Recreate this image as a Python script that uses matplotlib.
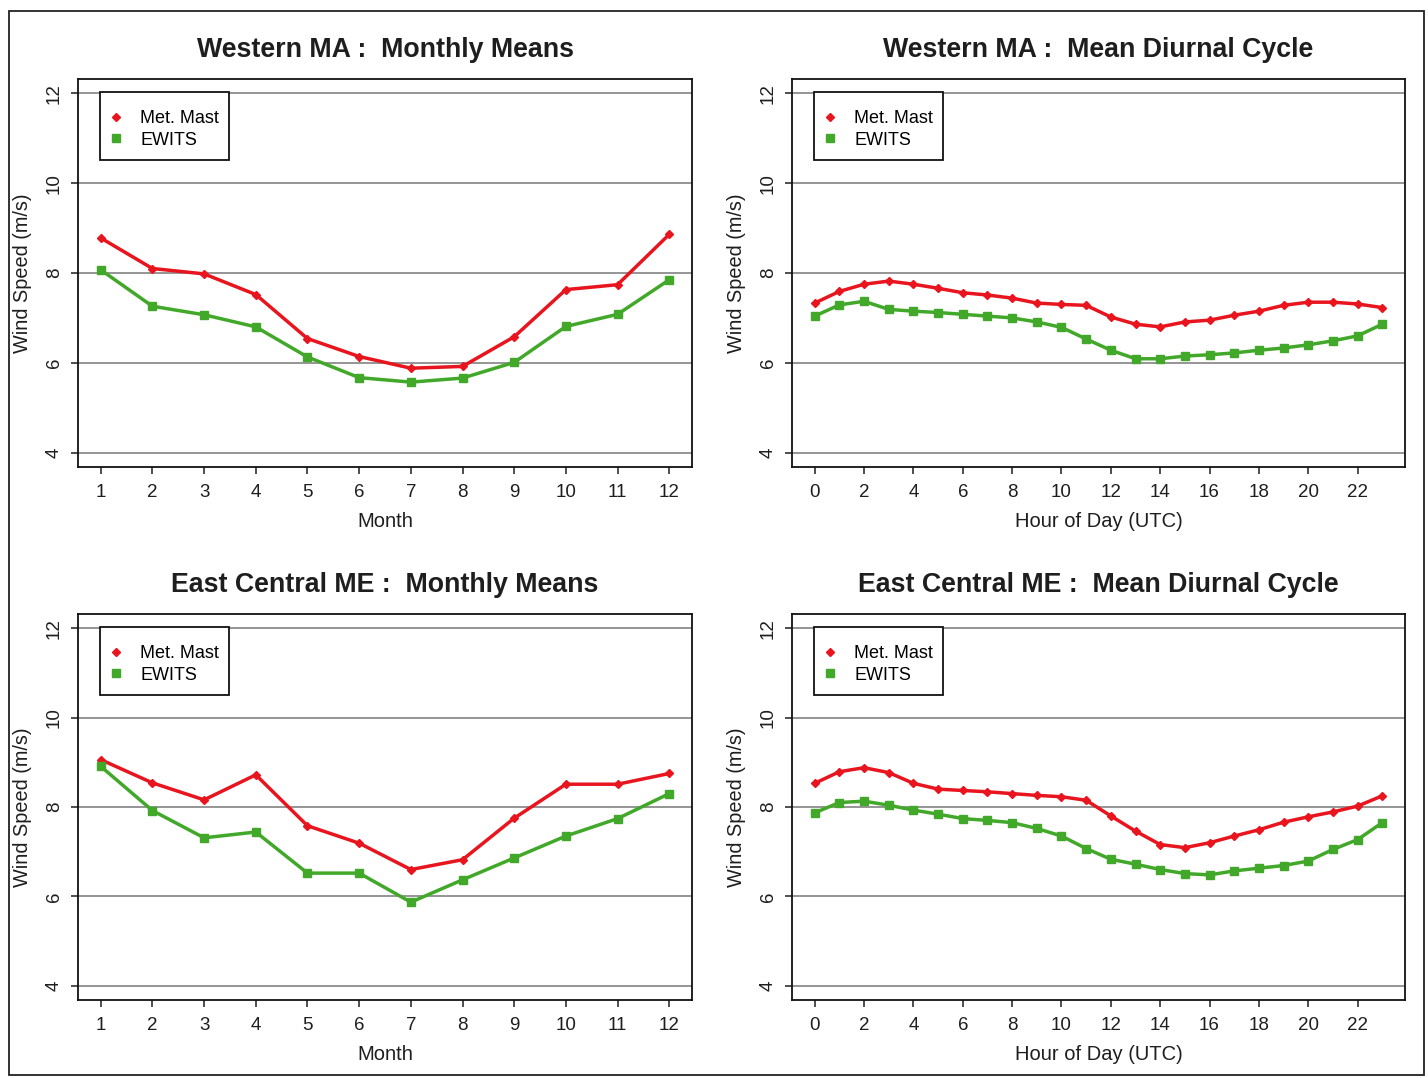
import matplotlib
matplotlib.use("Agg")
import matplotlib.pyplot as plt
from matplotlib.lines import Line2D
from matplotlib.patches import Rectangle

plt.rcParams['font.family'] = ['Liberation Sans', 'DejaVu Sans']

# ---- data -------------------------------------------------------------
months = list(range(1, 13))
hours = list(range(0, 24))

wma_month_mast = [8.78, 8.10, 7.98, 7.52, 6.54, 6.14, 5.88, 5.92, 6.58, 7.63, 7.74, 8.86]
wma_month_ewits = [8.07, 7.26, 7.07, 6.80, 6.13, 5.67, 5.57, 5.66, 6.01, 6.81, 7.08, 7.85]

wma_hour_mast = [7.33, 7.59, 7.75, 7.82, 7.75, 7.66, 7.56, 7.51, 7.44, 7.33, 7.30, 7.28,
                 7.02, 6.86, 6.80, 6.91, 6.95, 7.06, 7.15, 7.28, 7.35, 7.35, 7.31, 7.23]
wma_hour_ewits = [7.04, 7.29, 7.37, 7.19, 7.15, 7.12, 7.08, 7.04, 7.00, 6.91, 6.79, 6.53,
                  6.28, 6.09, 6.09, 6.15, 6.18, 6.22, 6.28, 6.33, 6.40, 6.49, 6.60, 6.86]

ecme_month_mast = [9.06, 8.54, 8.16, 8.72, 7.58, 7.19, 6.60, 6.82, 7.75, 8.51, 8.51, 8.75]
ecme_month_ewits = [8.91, 7.92, 7.31, 7.44, 6.52, 6.52, 5.87, 6.37, 6.86, 7.35, 7.74, 8.30]

ecme_hour_mast = [8.53, 8.79, 8.88, 8.77, 8.53, 8.40, 8.37, 8.34, 8.30, 8.26, 8.23, 8.15,
                  7.80, 7.46, 7.16, 7.09, 7.20, 7.35, 7.49, 7.66, 7.78, 7.89, 8.02, 8.25]
ecme_hour_ewits = [7.87, 8.10, 8.13, 8.04, 7.93, 7.84, 7.74, 7.70, 7.65, 7.52, 7.35, 7.07,
                   6.83, 6.72, 6.60, 6.51, 6.48, 6.57, 6.63, 6.69, 6.79, 7.05, 7.27, 7.65]

titles = ["Western MA :  Monthly Means", "Western MA :  Mean Diurnal Cycle",
          "East Central ME :  Monthly Means", "East Central ME :  Mean Diurnal Cycle"]
series_names = ["Met. Mast", "EWITS"]
y_ticks = [4, 6, 8, 10, 12]
month_ticks = months
hour_ticks = list(range(0, 23, 2))

RED = "#e8141e"
GREEN = "#42a82a"
GRID = "#8c8c8c"
INK = "#1e1e1e"

W, H = 1428, 1078
fig = plt.figure(figsize=(W / 100, H / 100), dpi=100)


def px_axes(left, top, right, bottom):
    return fig.add_axes([left / W, 1 - bottom / H, (right - left) / W, (bottom - top) / H])


boxes = [(78, 79, 692, 467), (792, 79, 1405, 467),
         (78, 614, 692, 1000), (792, 614, 1405, 1000)]

panels = [
    (months, wma_month_mast, wma_month_ewits, month_ticks, "Month"),
    (hours, wma_hour_mast, wma_hour_ewits, hour_ticks, "Hour of Day (UTC)"),
    (months, ecme_month_mast, ecme_month_ewits, month_ticks, "Month"),
    (hours, ecme_hour_mast, ecme_hour_ewits, hour_ticks, "Hour of Day (UTC)"),
]

for box, title, (x, mast, ewits, xt, xlab) in zip(boxes, titles, panels):
    ax = px_axes(*box)
    aw = box[2] - box[0]
    ah = box[3] - box[1]
    for yv in y_ticks:
        ax.axhline(yv, color=GRID, lw=1.3, zorder=1)
    ax.plot(x, mast, color=RED, lw=2.5, marker='D', ms=4.2, mfc=RED, mec=RED, zorder=3)
    ax.plot(x, ewits, color=GREEN, lw=2.5, marker='s', ms=5.2, mfc=GREEN, mec=GREEN, zorder=3)

    pad_x = 0.04 * (x[-1] - x[0])
    ax.set_xlim(x[0] - pad_x, x[-1] + pad_x)
    ax.set_ylim(4 - 0.32, 12 + 0.32)
    ax.set_xticks(xt)
    ax.set_yticks(y_ticks)
    ax.set_yticklabels([str(v) for v in y_ticks], rotation=90, va='center')
    ax.tick_params(direction='out', length=5, width=1.1, labelsize=13.5,
                   color=INK, labelcolor=INK)
    ax.tick_params(axis='x', pad=7)
    ax.tick_params(axis='y', pad=6)
    for sp in ax.spines.values():
        sp.set_linewidth(1.3)
        sp.set_color('#111111')

    ax.set_xlabel(xlab, fontsize=14.5, labelpad=8, color=INK)
    ax.set_ylabel("Wind Speed (m/s)", fontsize=14.3, labelpad=10, color=INK)
    ax.set_title(title, fontsize=19.3, fontweight='bold', pad=16, color=INK)

    # legend box drawn separately so its padding can differ per side
    ax.add_patch(Rectangle((22 / aw, 1 - 81 / ah), 129 / aw, 68 / ah,
                           transform=ax.transAxes, fill=True, facecolor='white',
                           edgecolor='#111111', lw=1.3, zorder=5))
    handles = [Line2D([], [], ls='none', marker='D', ms=4.0, color=RED),
               Line2D([], [], ls='none', marker='s', ms=5.5, color=GREEN)]
    leg = ax.legend(handles, series_names, loc='upper left',
                    bbox_to_anchor=(30 / aw, 1 - 31 / ah), borderaxespad=0,
                    fontsize=13, frameon=False, handlelength=0.9,
                    handletextpad=0.9, borderpad=0, labelspacing=0.25)
    leg.set_zorder(6)

# outer frame around the whole figure
fig.patches.append(Rectangle((9 / W, 1 - 1075 / H), (1424 - 9) / W, (1075 - 11) / H,
                             transform=fig.transFigure, fill=False,
                             edgecolor='#222222', lw=1.3))

fig.savefig("out.png", dpi=100)
